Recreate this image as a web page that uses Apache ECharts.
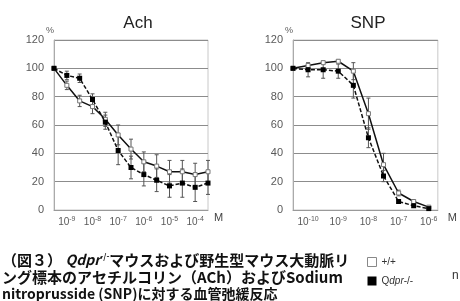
<!DOCTYPE html>
<html>
<head>
<meta charset="utf-8">
<script src="https://cdn.jsdelivr.net/npm/echarts@6/dist/echarts.min.js"></script>
<style>
    html, body { margin: 0; padding: 0; background: #fff; }
    #chart { width: 460px; height: 301px; }
</style>
</head>
<body>
<div id="chart"></div>
<script>
    // 濃度（モル）
    var achDoses = ['3e-10', '1e-9', '3e-9', '1e-8', '3e-8', '1e-7', '3e-7', '1e-6', '3e-6', '1e-5', '3e-5', '1e-4', '3e-4'];
    var snpDoses = ['3e-11', '1e-10', '3e-10', '1e-9', '3e-9', '1e-8', '3e-8', '1e-7', '3e-7', '1e-6'];

    // Ach 弛緩率 (%)
    var achWT = [100, 88, 77, 73, 64, 53, 43, 34, 31, 27, 27, 25, 27];
    var achWTsd = [0, 3, 4, 5, 5, 7, 7, 7, 8, 8, 8, 8, 8];
    var achKO = [100, 95, 93, 78, 62, 42, 30, 25, 21, 17, 19, 16, 19];
    var achKOsd = [0, 3, 3, 4, 5, 10, 8, 8, 8, 8, 10, 10, 8];

    // SNP 弛緩率 (%)
    var snpWT = [100, 102, 104, 105, 98, 68, 32, 12, 6, 2];
    var snpWTsd = [0, 1, 1, 1, 6, 11, 8, 2, 1, 1];
    var snpKO = [100, 99, 99, 98, 88, 51, 24, 6, 3, 1];
    var snpKOsd = [0, 5, 6, 5, 9, 7, 4, 1, 1, 1];

    var yTicks = [0, 20, 40, 60, 80, 100, 120];

    var chart = echarts.init(document.getElementById('chart'));

    function pts(arr) {
        return arr.map(function (v, i) { return [i, v]; });
    }
    function bars(arr, sd) {
        return arr.map(function (v, i) { return [i, v - sd[i], v + sd[i]]; });
    }
    function doseLabel(doses) {
        return function (val) {
            var d = doses[val];
            if (!d || d.indexOf('1e') !== 0) return '';
            return '{b|10}{s|' + d.slice(2) + '}';
        };
    }
    function renderBar(params, api) {
        var x = api.value(0);
        var lo = api.coord([x, api.value(1)]);
        var hi = api.coord([x, api.value(2)]);
        var st = { stroke: '#555', lineWidth: 1 };
        return {
            type: 'group',
            children: [
                { type: 'line', shape: { x1: lo[0], y1: lo[1], x2: hi[0], y2: hi[1] }, style: st },
                { type: 'line', shape: { x1: lo[0] - 2, y1: lo[1], x2: lo[0] + 2, y2: lo[1] }, style: st },
                { type: 'line', shape: { x1: hi[0] - 2, y1: hi[1], x2: hi[0] + 2, y2: hi[1] }, style: st }
            ]
        };
    }

    var labelRich = {
        b: { fontSize: 10, color: '#595959' },
        s: { fontSize: 7, color: '#595959', padding: [0, 0, 6, 0] }
    };

    function xAxisFor(idx, doses, max, gap) {
        return {
            gridIndex: idx,
            type: 'value',
            min: 0,
            max: max,
            interval: 1,
            name: 'M',
            nameLocation: 'end',
            nameGap: gap,
            nameTextStyle: { fontSize: 11, color: '#444', verticalAlign: 'top', padding: [2, 0, 0, 0] },
            axisLine: { lineStyle: { color: '#999' } },
            axisTick: { show: false },
            splitLine: { show: false },
            axisLabel: { margin: 6, showMaxLabel: false, formatter: doseLabel(doses), rich: labelRich }
        };
    }
    function yAxisFor(idx) {
        return {
            gridIndex: idx,
            type: 'value',
            min: yTicks[0],
            max: yTicks[yTicks.length - 1],
            interval: 20,
            name: '%',
            nameGap: 4,
            nameTextStyle: { fontSize: 9, color: '#595959', align: 'right' },
            axisLine: { show: true, lineStyle: { color: '#aaa' } },
            axisTick: { show: false },
            axisLabel: { fontSize: 11, color: '#595959', margin: 10 },
            splitLine: { lineStyle: { color: '#8c8c8c' } }
        };
    }

    var wtLine = { color: '#111', width: 1.5, type: 'solid' };
    var koLine = { color: '#111', width: 1.5, type: [4, 2] };

    var option = {
        animation: false,
        title: [
            { text: 'Ach', left: 133, top: 10, textAlign: 'center', textStyle: { fontSize: 17, fontWeight: 'normal', color: '#222' } },
            { text: 'SNP', left: 363, top: 10, textAlign: 'center', textStyle: { fontSize: 17, fontWeight: 'normal', color: '#222' } }
        ],
        grid: [
            { left: 54, right: 252, top: 40, bottom: 91, show: true, borderColor: '#c8c8c8', borderWidth: 1 },
            { left: 293, right: 22, top: 40, bottom: 91, show: true, borderColor: '#c8c8c8', borderWidth: 1 }
        ],
        xAxis: [xAxisFor(0, achDoses, achDoses.length - 1, 6), xAxisFor(1, snpDoses, 9.6, 10)],
        yAxis: [yAxisFor(0), yAxisFor(1)],
        legend: {
            orient: 'vertical',
            left: 362,
            top: 252,
            itemWidth: 9,
            itemHeight: 9,
            itemGap: 9,
            textStyle: { fontSize: 10, color: '#333' },
            formatter: function (name) {
                return name === 'Qdpr-/-' ? 'Q{i|dpr}-/-' : name;
            },
            data: [
                { name: '+/+', icon: 'rect', itemStyle: { color: '#fff', borderColor: '#888', borderWidth: 1 } },
                { name: 'Qdpr-/-', icon: 'rect', itemStyle: { color: '#000', borderWidth: 0 } }
            ]
        },
        graphic: [
            {
                type: 'text', left: 2, top: 252,
                style: {
                    text: '（図３） {i|Qdpr}{sup|-/-}マウスおよび野生型マウス大動脈リ',
                    font: 'bold 15px "Noto Sans CJK JP"', fill: '#111',
                    rich: {
                        i: { font: 'italic bold 14px "Noto Sans CJK JP"', fill: '#111' },
                        sup: { font: 'bold 8px "Noto Sans CJK JP"', fill: '#111', padding: [0, 0, 8, 0] }
                    }
                }
            },
            {
                type: 'text', left: 2, top: 270,
                style: { text: 'ング標本のアセチルコリン（ACh）およびSodium', font: 'bold 15px "Noto Sans CJK JP"', fill: '#111' }
            },
            {
                type: 'text', left: 2, top: 287,
                style: { text: 'nitroprusside (SNP)に対する血管弛緩反応', font: 'bold 14px "Noto Sans CJK JP"', fill: '#111' }
            },
            {
                type: 'text', left: 452, top: 270,
                style: { text: 'n', font: '12px sans-serif', fill: '#333' }
            }
        ],
        series: [
            { name: '+/+', type: 'line', xAxisIndex: 0, yAxisIndex: 0, data: pts(achWT), symbol: 'rect', symbolSize: 4, lineStyle: wtLine, itemStyle: { color: '#fff', borderColor: '#777', borderWidth: 1 }, z: 3 },
            { name: 'Qdpr-/-', type: 'line', xAxisIndex: 0, yAxisIndex: 0, data: pts(achKO), symbol: 'rect', symbolSize: 5, lineStyle: koLine, itemStyle: { color: '#000' }, z: 4 },
            { type: 'custom', xAxisIndex: 0, yAxisIndex: 0, data: bars(achWT, achWTsd), renderItem: renderBar, z: 2 },
            { type: 'custom', xAxisIndex: 0, yAxisIndex: 0, data: bars(achKO, achKOsd), renderItem: renderBar, z: 2 },
            { name: '+/+', type: 'line', xAxisIndex: 1, yAxisIndex: 1, data: pts(snpWT), symbol: 'rect', symbolSize: 4, lineStyle: wtLine, itemStyle: { color: '#fff', borderColor: '#777', borderWidth: 1 }, z: 3 },
            { name: 'Qdpr-/-', type: 'line', xAxisIndex: 1, yAxisIndex: 1, data: pts(snpKO), symbol: 'rect', symbolSize: 5, lineStyle: koLine, itemStyle: { color: '#000' }, z: 4 },
            { type: 'custom', xAxisIndex: 1, yAxisIndex: 1, data: bars(snpWT, snpWTsd), renderItem: renderBar, z: 2 },
            { type: 'custom', xAxisIndex: 1, yAxisIndex: 1, data: bars(snpKO, snpKOsd), renderItem: renderBar, z: 2 }
        ]
    };
    option.legend.textStyle.rich = { i: { fontSize: 10, fontStyle: 'italic', color: '#333' } };

    chart.setOption(option);
</script>
</body>
</html>
